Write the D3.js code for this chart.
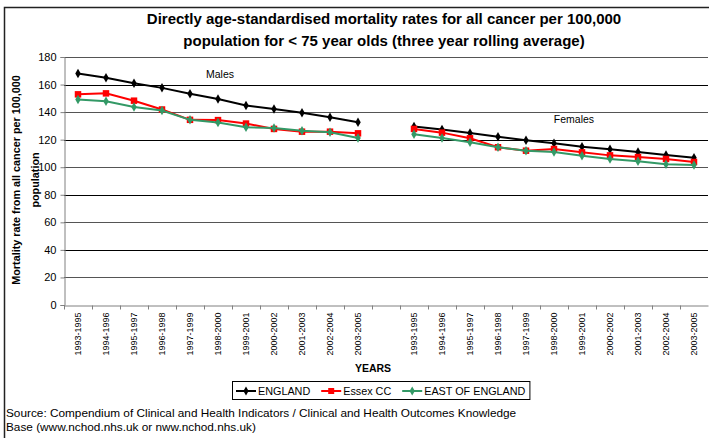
<!DOCTYPE html>
<html>
<head>
<meta charset="utf-8">
<script src="https://cdn.jsdelivr.net/npm/d3@7"></script>
<style>
  body { margin: 0; background: #fff; }
  text { font-family: "Liberation Sans", Arial, sans-serif; }
</style>
</head>
<body>
<div id="chart"></div>
<script>
// data
var periods = ["1993-1995", "1994-1996", "1995-1997", "1996-1998", "1997-1999", "1998-2000",
               "1999-2001", "2000-2002", "2001-2003", "2002-2004", "2003-2005"];

var englandMales   = [168, 165, 161, 157.6, 153.4, 149.5, 144.8, 142.2, 139.5, 136.3, 132.7];
var essexMales     = [152.9, 153.6, 148.3, 141.9, 134.4, 134.2, 131.7, 127.8, 125.8, 125.8, 124.6];
var eastMales      = [149.2, 147.8, 143.7, 141.2, 134.4, 132.4, 129, 128.5, 126.5, 125.3, 121.2];

var englandFemales = [129.5, 127.3, 124.9, 122.2, 119.6, 117.4, 114.9, 113, 111.1, 108.9, 106.9];
var essexFemales   = [127.8, 125.1, 121, 114.5, 112, 113.2, 110.8, 108.6, 107.4, 106, 103.8];
var eastFemales    = [123.9, 121.2, 118.1, 114.5, 112, 111.1, 108.4, 106, 104.3, 102.1, 101.6];

var yTicks = [0, 20, 40, 60, 80, 100, 120, 140, 160, 180];

var series = [
  {name: "ENGLAND", color: "#000000", shape: "diamond", males: englandMales, females: englandFemales},
  {name: "Essex CC", color: "#ff0000", shape: "square", males: essexMales, females: essexFemales},
  {name: "EAST OF ENGLAND", color: "#339966", shape: "diamond", males: eastMales, females: eastFemales}
];

var W = 709, H = 438;
var margin = {top: 57, right: 1, bottom: 133, left: 64};
var width = W - margin.left - margin.right,
    height = H - margin.top - margin.bottom;

var svg = d3.select("#chart").append("svg")
  .attr("width", W).attr("height", H);

// outer frame (cut by the window on the right and bottom)
svg.append("path")
  .attr("d", "M4.5," + H + "V7.5H" + W)
  .attr("fill", "none").attr("stroke", "#222").attr("stroke-width", 1.5);

// title
svg.append("text").attr("x", 384).attr("y", 24).attr("text-anchor", "middle")
  .style("font-size", "15px").style("font-weight", "bold")
  .text("Directly age-standardised mortality rates for all cancer per 100,000");
svg.append("text").attr("x", 384).attr("y", 46).attr("text-anchor", "middle")
  .style("font-size", "15px").style("font-weight", "bold")
  .text("population for < 75 year olds (three year rolling average)");

var g = svg.append("g").attr("transform", "translate(" + margin.left + "," + margin.top + ")");

// x: 11 male periods, an empty slot, 11 female periods
var keys = periods.map(function(p, i) { return "M" + i; })
  .concat(["gap"])
  .concat(periods.map(function(p, i) { return "F" + i; }));

var x = d3.scaleBand().domain(keys).range([0, width]).padding(0);
var y = d3.scaleLinear().domain([0, 180]).range([height, 0]);

// gridlines
g.append("g").selectAll("line")
  .data(yTicks.filter(function(d) { return d > 0; }))
  .enter().append("line")
    .attr("x1", 0).attr("x2", width)
    .attr("y1", function(d) { return Math.round(y(d)) + 0.5; })
    .attr("y2", function(d) { return Math.round(y(d)) + 0.5; })
    .attr("stroke", function(d, i) { return i % 2 ? "#000" : "#555"; })
    .attr("stroke-width", 1);

// y axis
var yAxis = g.append("g").attr("transform", "translate(0.5,0)")
  .call(d3.axisLeft(y).tickValues(yTicks).tickSize(4).tickPadding(4));
yAxis.select(".domain").attr("stroke", "#808080");
yAxis.selectAll(".tick line").attr("stroke", "#808080");
yAxis.selectAll("text").style("font-size", "11px").attr("fill", "#000")
  .style("font-family", "'Liberation Sans', Arial, sans-serif");

// x axis
var xAxis = g.append("g").attr("transform", "translate(0," + (Math.round(height) + 0.5) + ")")
  .call(d3.axisBottom(x).tickSize(0).tickPadding(0)
    .tickFormat(function(d) { return d === "gap" ? "" : periods[+d.slice(1)]; }));
xAxis.select(".domain").attr("stroke", "#808080");
xAxis.selectAll("text")
  .style("font-size", "9px").attr("fill", "#000")
  .style("font-family", "'Liberation Sans', Arial, sans-serif")
  .attr("text-anchor", "end")
  .attr("transform", "translate(3,7) rotate(-90)")
  .attr("dy", 0).attr("y", 0).attr("x", 0);

// boundary ticks
xAxis.selectAll(".bt")
  .data(keys)
  .enter().append("line")
    .attr("x1", function(d) { return Math.round(x(d)) + 0.5; })
    .attr("x2", function(d) { return Math.round(x(d)) + 0.5; })
    .attr("y1", 0).attr("y2", 4)
    .attr("stroke", "#808080");

// lines + markers
var cx = function(prefix) { return function(d, i) { return x(prefix + i) + x.bandwidth() / 2; }; };
var line = function(prefix) {
  return d3.line().x(cx(prefix)).y(function(d) { return y(d); });
};

series.forEach(function(s) {
  [["M", s.males], ["F", s.females]].forEach(function(part) {
    g.append("path").datum(part[1])
      .attr("fill", "none").attr("stroke", s.color).attr("stroke-width", 2)
      .attr("d", line(part[0]));
    g.selectAll(null).data(part[1]).enter().append("path")
      .attr("transform", function(d, i) { return "translate(" + cx(part[0])(d, i) + "," + y(d) + ")"; })
      .attr("d", d3.symbol().type(s.shape === "square" ? d3.symbolSquare : d3.symbolDiamond)
        .size(s.shape === "square" ? 42 : 26))
      .attr("fill", s.color);
  });
});

// group labels
g.append("text").attr("x", x("M5") + 16).attr("y", 21).attr("text-anchor", "middle")
  .style("font-size", "10.5px").text("Males");
g.append("text").attr("x", x("F6") + 6).attr("y", 66).attr("text-anchor", "middle")
  .style("font-size", "10.5px").text("Females");

// y axis title
var yt = svg.append("text")
  .attr("transform", "translate(0," + (margin.top + height / 2 - 1) + ") rotate(-90)")
  .attr("text-anchor", "middle")
  .style("font-size", "10.8px").style("font-weight", "bold");
yt.append("tspan").attr("x", 0).attr("y", 20).text("Mortality rate from all cancer per 100,000");
yt.append("tspan").attr("x", 0).attr("y", 39).text("population");

// x axis title
svg.append("text").attr("x", 373).attr("y", 372).attr("text-anchor", "middle")
  .style("font-size", "10.5px").style("font-weight", "bold").text("YEARS");

// legend
var legend = svg.append("g").attr("transform", "translate(232,381)");
var box = legend.append("rect").attr("x", 0.5).attr("y", 0.5).attr("width", 303).attr("height", 18)
  .attr("fill", "#fff").attr("stroke", "#000");
var lx = 4, gap = 11;
series.forEach(function(s, i) {
  var li = legend.append("g").attr("transform", "translate(" + lx + ",10)");
  li.append("line").attr("x1", 0).attr("x2", 20).attr("stroke", s.color).attr("stroke-width", 2);
  li.append("path").attr("transform", "translate(10,0)")
    .attr("d", d3.symbol().type(s.shape === "square" ? d3.symbolSquare : d3.symbolDiamond)
      .size(s.shape === "square" ? 36 : 24))
    .attr("fill", s.color);
  var t = li.append("text").attr("x", 22).attr("y", 4).style("font-size", "10.8px").text(s.name);
  lx += 22 + t.node().getComputedTextLength() + gap;
});
box.attr("width", lx - gap + 4);

// source note
svg.append("text").attr("x", 6).attr("y", 417).style("font-size", "11.8px")
  .text("Source: Compendium of Clinical and Health Indicators / Clinical and Health Outcomes Knowledge");
svg.append("text").attr("x", 6).attr("y", 431).style("font-size", "11.8px")
  .text("Base (www.nchod.nhs.uk or nww.nchod.nhs.uk)");
</script>
</body>
</html>
